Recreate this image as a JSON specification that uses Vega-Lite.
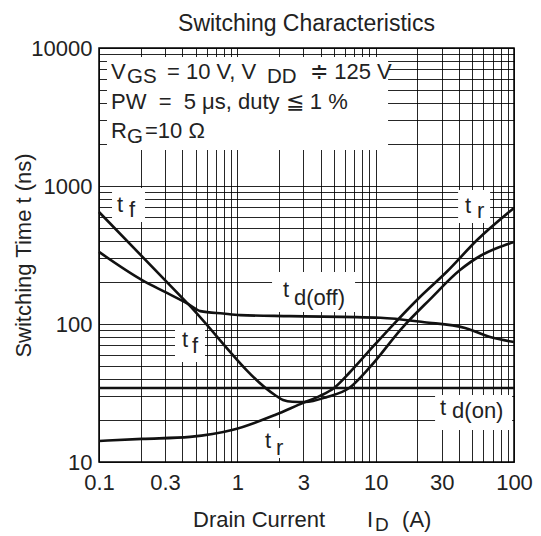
{
  "$schema": "https://vega.github.io/schema/vega-lite/v6.json",
  "width": 415,
  "height": 414,
  "autosize": {"type": "none"},
  "padding": {"left": 99, "top": 48, "right": 27, "bottom": 74},
  "datasets": {
    "curves": [
      {"series": "tf", "x": 0.1, "y": 648}, {"series": "tf", "x": 0.44, "y": 140}, {"series": "tf", "x": 1.87, "y": 30.6}, {"series": "tf", "x": 2.14, "y": 28.1}, {"series": "tf", "x": 2.5, "y": 27.3}, {"series": "tf", "x": 3.09, "y": 27.2}, {"series": "tf", "x": 4.45, "y": 29.6}, {"series": "tf", "x": 6.43, "y": 34.4}, {"series": "tf", "x": 9.1, "y": 48.8}, {"series": "tf", "x": 15.5, "y": 93.5}, {"series": "tf", "x": 24.7, "y": 151}, {"series": "tf", "x": 40.7, "y": 246}, {"series": "tf", "x": 56.9, "y": 311}, {"series": "tf", "x": 75.5, "y": 355}, {"series": "tf", "x": 100, "y": 392},
      {"series": "tr", "x": 0.1, "y": 14.2}, {"series": "tr", "x": 0.205, "y": 14.7}, {"series": "tr", "x": 0.455, "y": 15.2}, {"series": "tr", "x": 0.93, "y": 17.1}, {"series": "tr", "x": 1.87, "y": 21.9}, {"series": "tr", "x": 2.99, "y": 26.8}, {"series": "tr", "x": 3.96, "y": 30.1}, {"series": "tr", "x": 5.0, "y": 34.4}, {"series": "tr", "x": 6.53, "y": 44.9}, {"series": "tr", "x": 9.1, "y": 64.9}, {"series": "tr", "x": 12.7, "y": 93.5}, {"series": "tr", "x": 20.9, "y": 157}, {"series": "tr", "x": 32.8, "y": 240}, {"series": "tr", "x": 54.1, "y": 406}, {"series": "tr", "x": 100, "y": 693},
      {"series": "tdoff", "x": 0.1, "y": 333}, {"series": "tdoff", "x": 0.205, "y": 208}, {"series": "tdoff", "x": 0.31, "y": 168}, {"series": "tdoff", "x": 0.44, "y": 140}, {"series": "tdoff", "x": 0.54, "y": 124}, {"series": "tdoff", "x": 0.79, "y": 119}, {"series": "tdoff", "x": 1.05, "y": 116}, {"series": "tdoff", "x": 2.4, "y": 114}, {"series": "tdoff", "x": 10.8, "y": 111}, {"series": "tdoff", "x": 22.5, "y": 103}, {"series": "tdoff", "x": 44.3, "y": 93.5}, {"series": "tdoff", "x": 67.2, "y": 80.5}, {"series": "tdoff", "x": 100, "y": 74},
      {"series": "tdon", "x": 0.1, "y": 34.4}, {"series": "tdon", "x": 100, "y": 34.4}
    ],
    "boxes": [
      {"x": 0.1142, "y": 8605, "x2": 12.29, "y2": 1823},
      {"x": 0.1242, "y": 967, "x2": 0.2151, "y2": 548},
      {"x": 0.3543, "y": 98.4, "x2": 0.584, "y2": 53.0},
      {"x": 1.782, "y": 238.2, "x2": 7.096, "y2": 122.2},
      {"x": 39.43, "y": 935.5, "x2": 67.18, "y2": 539.5},
      {"x": 26.88, "y": 30.6, "x2": 96.9, "y2": 17.06},
      {"x": 1.459, "y": 17.64, "x2": 2.325, "y2": 10.69}
    ],
    "labels": [
      {"x": 0.1221, "y": 5962, "text": "V", "kind": "main"},
      {"x": 0.1594, "y": 5578, "text": "GS", "kind": "sub"},
      {"x": 0.3102, "y": 5962, "text": "= 10 V, V", "kind": "main"},
      {"x": 1.64, "y": 5578, "text": "DD", "kind": "sub"},
      {"x": 3.355, "y": 5962, "text": "≑ 125 V", "kind": "main"},
      {"x": 0.1221, "y": 3614, "text": "PW\u00a0\u00a0=\u00a0\u00a05 μs, duty ≦ 1 %", "kind": "main"},
      {"x": 0.1221, "y": 2227, "text": "R", "kind": "main"},
      {"x": 0.1594, "y": 2049, "text": "G", "kind": "sub"},
      {"x": 0.2151, "y": 2227, "text": "=10 Ω", "kind": "main"},
      {"x": 0.1349, "y": 648, "text": "t", "kind": "main"},
      {"x": 0.1647, "y": 596, "text": "f", "kind": "main"},
      {"x": 0.398, "y": 68.1, "text": "t", "kind": "main"},
      {"x": 0.47, "y": 61.6, "text": "f", "kind": "main"},
      {"x": 2.14, "y": 156.9, "text": "t", "kind": "main"},
      {"x": 2.57, "y": 137.3, "text": "d(off)", "kind": "main"},
      {"x": 44.31, "y": 637.5, "text": "t", "kind": "main"},
      {"x": 54.1, "y": 586.4, "text": "r", "kind": "main"},
      {"x": 29.22, "y": 21.9, "text": "t", "kind": "main"},
      {"x": 35.68, "y": 20.84, "text": "d(on)", "kind": "main"},
      {"x": 1.586, "y": 12.63, "text": "t", "kind": "main"},
      {"x": 1.905, "y": 11.24, "text": "r", "kind": "main"},
      {"x": 0.4783, "y": 3.38, "text": "Drain Current", "kind": "main"},
      {"x": 8.665, "y": 3.38, "text": "I", "kind": "main"},
      {"x": 9.9, "y": 3.162, "text": "D", "kind": "small"},
      {"x": 15.52, "y": 3.38, "text": "(A)", "kind": "main"}
    ],
    "heading": [
      {"x": 3.162, "y": 13280, "text": "Switching Characteristics"}
    ]
  },
  "encoding": {
    "x": {
      "field": "x", "type": "quantitative",
      "scale": {"type": "log", "domain": [0.1, 100], "nice": false},
      "axis": {
        "values": [0.1, 0.2, 0.3, 0.4, 0.5, 0.6, 0.7, 0.8, 0.9, 1, 2, 3, 4, 5, 6, 7, 8, 9, 10, 20, 30, 40, 50, 60, 70, 80, 90, 100],
        "format": "~g",
        "labelExpr": "(datum.value == 0.1 || datum.value == 0.3 || datum.value == 1 || datum.value == 3 || datum.value == 10 || datum.value == 30 || datum.value == 100) ? datum.label : ''",
        "labelPadding": 10,
        "labelFlush": false,
        "title": null
      }
    },
    "y": {
      "field": "y", "type": "quantitative",
      "scale": {"type": "log", "domain": [10, 10000], "nice": false},
      "axis": {
        "values": [10, 20, 30, 40, 50, 60, 70, 80, 90, 100, 200, 300, 400, 500, 600, 700, 800, 900, 1000, 2000, 3000, 4000, 5000, 6000, 7000, 8000, 9000, 10000],
        "format": "~g",
        "labelExpr": "(datum.value == 10 || datum.value == 100 || datum.value == 1000 || datum.value == 10000) ? datum.label : ''",
        "labelPadding": 7,
        "labelFlush": false,
        "title": "Switching Time t (ns)",
        "titleX": -76,
        "titleY": 207,
        "titleAlign": "center",
        "titleBaseline": "middle",
        "titleAngle": -90
      }
    }
  },
  "layer": [
    {
      "data": {"name": "boxes"},
      "mark": {"type": "rect", "fill": "white", "stroke": null},
      "encoding": {"x2": {"field": "x2"}, "y2": {"field": "y2"}}
    },
    {
      "data": {"name": "curves"},
      "mark": {"type": "line", "color": "#111", "strokeWidth": 2.6, "interpolate": "monotone"},
      "encoding": {"detail": {"field": "series", "type": "nominal"}}
    },
    {
      "data": {"name": "labels"},
      "mark": {"type": "text", "align": "left", "baseline": "alphabetic", "color": "#222", "font": "Liberation Sans", "clip": false},
      "encoding": {
        "text": {"field": "text", "type": "nominal"},
        "size": {"field": "kind", "type": "nominal", "scale": {"domain": ["main", "sub", "small"], "range": [22, 19, 16]}, "legend": null}
      }
    },
    {
      "data": {"name": "heading"},
      "mark": {"type": "text", "align": "center", "baseline": "alphabetic", "color": "#222", "font": "Liberation Sans", "fontSize": 23, "clip": false},
      "encoding": {"text": {"field": "text", "type": "nominal"}}
    }
  ],
  "config": {
    "font": "Liberation Sans",
    "view": {"stroke": "#000", "strokeWidth": 1.5},
    "axis": {
      "grid": true, "gridColor": "#000", "gridWidth": 1, "gridOpacity": 0.85,
      "ticks": false, "domain": false,
      "labelFontSize": 22, "labelColor": "#222", "labelFont": "Liberation Sans", "labelOverlap": false, "labelBound": false,
      "titleFont": "Liberation Sans", "titleFontSize": 22, "titleFontWeight": "normal", "titleColor": "#222"
    }
  }
}
